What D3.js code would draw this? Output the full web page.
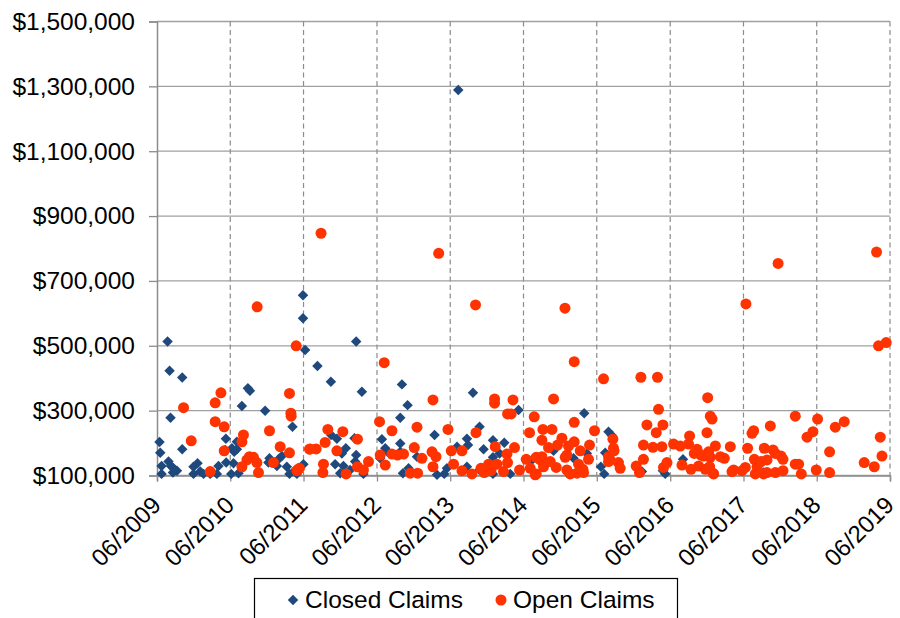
<!DOCTYPE html>
<html>
<head>
<meta charset="utf-8">
<script src="https://cdn.jsdelivr.net/npm/d3@7/dist/d3.min.js"></script>
<style>
  html, body { margin: 0; padding: 0; background: #ffffff; }
  svg { display: block; font-family: "Liberation Sans", Arial, sans-serif; }
</style>
</head>
<body>
<svg id="chart" width="900" height="618"></svg>
<script>
// Claim evaluation date (decimal year) and incurred amount (in $ thousands)
const closedClaims = [
  [2009.558,513],[2009.585,423],[2009.758,402],[2009.598,278],[2009.448,203],[2009.458,170],
  [2009.758,181],[2009.476,129],[2009.476,105],[2009.571,143],[2009.604,129],[2009.639,122],
  [2009.631,109],[2009.686,115],[2009.912,127],[2009.967,138],[2009.912,105],[2010.004,112],
  [2010.049,105],[2010.140,105],[2010.253,129],[2010.231,105],[2010.358,140],[2010.354,213],
  [2010.345,179],[2010.436,184],[2010.467,173],[2010.504,181],[2010.504,204],[2010.458,138],
  [2010.427,105],[2010.526,107],[2010.572,314],[2010.654,369],[2010.682,361],[2010.890,300],
  [2010.949,153],[2010.935,140],[2011.050,129],[2011.072,150],[2011.118,160],[2011.186,127],
  [2011.222,105],[2011.300,117],[2011.323,105],[2011.263,250],[2011.413,135],[2011.407,585],
  [2011.436,487],[2011.407,656],[2011.604,438],[2011.787,389],[2012.132,513],[2012.210,358],
  [2012.755,381],[2012.832,317],[2012.732,278],[2013.200,225],[2011.791,225],[2011.869,213],
  [2011.937,168],[2011.991,184],[2012.050,117],[2012.109,215],[2012.132,163],[2012.118,143],
  [2011.845,135],[2011.959,129],[2011.914,107],[2012.231,105],[2012.482,212],[2012.528,184],
  [2012.559,173],[2012.732,173],[2012.732,199],[2012.960,158],[2012.769,107],[2012.845,122],
  [2013.233,102],[2013.332,105],[2013.369,122],[2013.506,189],[2012.459,153],[2013.523,1289],
  [2013.724,355],[2014.346,302],[2015.242,292],[2013.814,250],[2013.642,213],[2013.656,194],
  [2013.997,209],[2014.151,201],[2013.869,181],[2013.997,156],[2014.087,168],[2013.642,127],
  [2013.814,117],[2013.847,122],[2013.997,105],[2014.233,105],[2015.097,153],[2015.279,168],
  [2015.574,235],[2015.620,223],[2015.470,127],[2015.515,105],[2015.529,170],[2014.529,148],
  [2014.824,176],[2016.030,112],[2016.347,105],[2016.316,115],[2016.589,150],[2017.688,109]
];

const openClaims = [
  [2011.313,500],[2009.776,309],[2010.286,355],[2010.208,324],[2010.208,266],[2010.331,250],
  [2009.881,207],[2010.331,176],[2010.594,225],[2010.573,204],[2010.676,158],[2010.641,148],
  [2010.573,127],[2010.731,156],[2010.777,140],[2010.799,109],[2010.140,112],[2010.949,238],
  [2011.004,140],[2011.095,189],[2011.222,170],[2011.222,353],[2011.241,292],[2011.245,283],
  [2011.323,115],[2011.358,122],[2011.495,181],[2010.781,620],[2011.653,847],[2012.514,448],
  [2013.178,333],[2012.450,266],[2012.619,238],[2012.960,249],[2013.383,242],[2011.746,242],
  [2011.950,235],[2011.709,202],[2011.504,182],[2011.586,182],[2011.869,176],[2012.150,212],
  [2012.459,163],[2012.619,166],[2012.695,163],[2012.777,166],[2012.923,186],[2013.028,153],
  [2013.165,173],[2013.219,158],[2013.428,176],[2013.178,127],[2013.459,135],[2012.300,143],
  [2012.231,117],[2012.150,127],[2011.995,105],[2011.686,135],[2011.678,109],[2012.528,132],
  [2012.869,107],[2012.968,107],[2013.256,785],[2013.759,626],[2015.106,451],[2015.506,398],
  [2014.019,336],[2014.019,323],[2014.270,333],[2014.824,336],[2014.196,290],[2014.246,290],
  [2014.560,281],[2015.106,264],[2013.765,232],[2014.496,232],[2014.679,242],[2014.802,242],
  [2015.383,238],[2014.665,209],[2014.938,215],[2015.028,191],[2014.878,194],[2015.315,194],
  [2014.028,189],[2014.291,186],[2014.755,186],[2013.574,176],[2014.188,166],[2015.188,176],
  [2015.301,150],[2013.937,135],[2014.051,135],[2014.196,140],[2014.665,158],[2014.588,156],
  [2014.779,143],[2014.983,156],[2015.165,135],[2013.574,115],[2013.710,105],[2013.878,109],
  [2013.970,115],[2014.141,112],[2014.360,117],[2014.506,122],[2014.588,105],[2014.687,127],
  [2014.860,125],[2015.006,117],[2015.051,105],[2015.143,107],[2015.233,109],[2015.574,158],
  [2015.574,143],[2014.980,616],[2014.451,150],[2014.574,102],[2014.642,148],[2015.006,163],
  [2015.106,204],[2015.225,119],[2013.833,122],
  [2016.016,403],[2016.242,403],[2016.925,340],[2016.256,304],[2016.961,283],[2016.985,274],
  [2016.098,256],[2016.316,256],[2016.225,232],[2016.916,232],[2015.634,212],[2015.642,184],
  [2015.650,176],[2016.051,194],[2016.180,187],[2016.302,189],[2016.461,197],[2016.552,191],
  [2016.679,222],[2016.665,197],[2016.780,181],[2017.030,191],[2017.234,189],[2016.743,168],
  [2016.870,160],[2016.961,156],[2017.098,158],[2016.938,173],[2017.470,184],[2017.530,230],
  [2017.552,238],[2015.597,148],[2015.710,140],[2015.734,122],[2016.051,150],[2015.952,129],
  [2015.997,109],[2016.371,140],[2016.324,125],[2016.575,132],[2016.698,119],[2016.802,129],
  [2016.893,119],[2017.006,105],[2016.952,127],[2017.257,112],[2017.394,115],[2017.439,125],
  [2017.562,150],[2017.575,105],[2017.447,629],[2016.834,163],[2016.998,107],[2017.279,117],
  [2017.152,153],
  [2018.121,283],[2018.425,274],[2018.789,266],[2018.667,249],[2017.780,253],[2018.362,235],
  [2018.281,218],[2019.281,218],[2017.698,184],[2017.817,179],[2017.926,160],[2017.953,150],
  [2018.589,173],[2019.304,160],[2019.062,140],[2019.199,127],[2017.653,143],[2017.735,148],
  [2017.599,127],[2017.688,105],[2017.848,109],[2017.953,115],[2018.121,135],[2018.166,135],
  [2018.203,105],[2018.407,117],[2018.589,109],[2019.257,500],[2019.362,510],[2017.886,754],
  [2019.230,789],[2017.848,168],[2017.735,109]
];

const tickYears = d3.range(2009, 2020);           // June of each year
const yTickValues = d3.range(100000, 1500001, 200000);
const seriesNames = ["Closed Claims", "Open Claims"];

const blue = "#1f497d";
const orange = "#ff3300";
const fontFamily = "'Liberation Sans', Arial, sans-serif";

function toDate(y) {
  const Y = Math.floor(y);
  const a = new Date(Y, 0, 1), b = new Date(Y + 1, 0, 1);
  return new Date(+a + (y - Y) * (b - a));
}

const svg = d3.select("#chart");
const plot = { left: 157, right: 890, top: 21.5, bottom: 475.5 };

const x = d3.scaleTime()
  .domain([new Date(2009, 5, 1), new Date(2019, 5, 1)])
  .range([plot.left, plot.right]);
const y = d3.scaleLinear()
  .domain([100000, 1500000])
  .range([plot.bottom, plot.top]);

const tickDates = tickYears.map(yr => new Date(yr, 5, 1));

// horizontal gridlines
svg.append("g").selectAll("line")
  .data(yTickValues)
  .join("line")
  .attr("x1", plot.left).attr("x2", plot.right)
  .attr("y1", d => y(d)).attr("y2", d => y(d))
  .attr("stroke", "#a0a0a0").attr("stroke-width", 1.3);

// vertical dashed gridlines
svg.append("g").selectAll("line")
  .data(tickDates.slice(1))
  .join("line")
  .attr("x1", d => x(d)).attr("x2", d => x(d))
  .attr("y1", plot.top).attr("y2", plot.bottom)
  .attr("stroke", "#8c8c8c").attr("stroke-width", 1.2)
  .attr("stroke-dasharray", "5,3.5");

// y axis
const yAxis = d3.axisLeft(y)
  .tickValues(yTickValues)
  .tickSize(8)
  .tickPadding(14)
  .tickFormat(d3.format("$,"));
const gy = svg.append("g").attr("transform", `translate(${plot.left},0)`).call(yAxis);
gy.select(".domain").attr("stroke", "#8c8c8c").attr("stroke-width", 1.5);
gy.selectAll(".tick line").attr("stroke", "#8c8c8c").attr("stroke-width", 1.3);
gy.selectAll(".tick text")
  .attr("font-size", 24.5).attr("fill", "#000")
  .attr("font-family", fontFamily);

// x axis
const xAxis = d3.axisBottom(x)
  .tickValues(tickDates)
  .tickSize(6)
  .tickFormat(d3.timeFormat("%m/%Y"));
const gx = svg.append("g").attr("transform", `translate(0,${plot.bottom})`).call(xAxis);
gx.select(".domain").attr("stroke", "#8c8c8c").attr("stroke-width", 1.5);
gx.selectAll(".tick line").attr("stroke", "#8c8c8c").attr("stroke-width", 1.3);
gx.selectAll(".tick text")
  .attr("font-size", 24).attr("fill", "#000")
  .attr("font-family", fontFamily)
  .attr("text-anchor", "end")
  .attr("y", 0)
  .attr("dy", "0")
  .attr("transform", "translate(5,31) rotate(-45)");

const diamond = d3.symbol().type(d3.symbolSquare).size(55);

// closed claims (diamonds)
svg.append("g").selectAll("path")
  .data(closedClaims)
  .join("path")
  .attr("d", diamond)
  .attr("transform", d => `translate(${x(toDate(d[0]))},${y(d[1] * 1000)}) rotate(45)`)
  .attr("fill", blue);

// open claims (circles)
svg.append("g").selectAll("circle")
  .data(openClaims)
  .join("circle")
  .attr("cx", d => x(toDate(d[0])))
  .attr("cy", d => y(d[1] * 1000))
  .attr("r", 5.5)
  .attr("fill", orange);

// legend
const lg = svg.append("g").attr("font-family", fontFamily);
lg.append("rect")
  .attr("x", 254.5).attr("y", 578.5).attr("width", 423).attr("height", 45)
  .attr("fill", "#fff").attr("stroke", "#000").attr("stroke-width", 1.2);
lg.append("path").attr("d", diamond)
  .attr("transform", "translate(293,600) rotate(45)").attr("fill", blue);
lg.append("text").attr("x", 305).attr("y", 608).attr("font-size", 24.5).text(seriesNames[0]);
lg.append("circle").attr("cx", 501).attr("cy", 600).attr("r", 5.5).attr("fill", orange);
lg.append("text").attr("x", 513).attr("y", 608).attr("font-size", 24.5).text(seriesNames[1]);
</script>
</body>
</html>
